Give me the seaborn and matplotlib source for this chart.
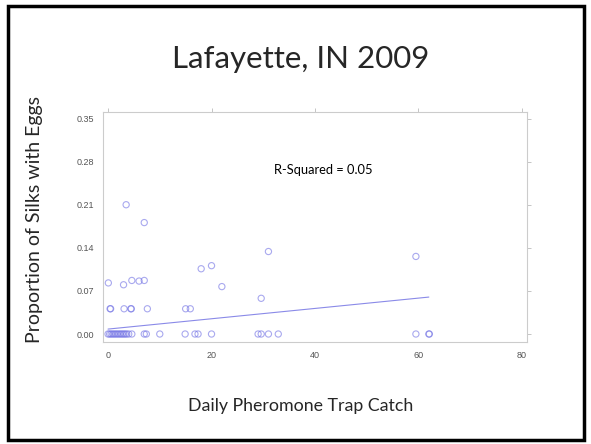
import matplotlib
matplotlib.use("Agg")
import matplotlib.pyplot as plt
import seaborn as sns
import pandas as pd
from matplotlib.patches import Rectangle

# values
catch = [0, 0.3, 0.6, 0.9, 1.2, 1.5, 1.8, 2.1, 2.4, 2.7, 3.0, 3.3, 3.6, 4.0,
         4.6, 7.0, 7.4, 10, 14.9, 16.8, 17.4, 20, 29, 29.6, 31, 32.9, 59.5, 62, 62.1,
         0.4, 0.5, 3.1, 4.4, 4.5, 7.6, 15.0, 15.9,
         0.06, 3.5, 7.0, 3.0, 4.6, 6.0, 7.0, 18, 20, 22, 29.6, 31, 59.5]
prop = [0.0] * 29 + [0.041] * 8 + \
       [0.083, 0.21, 0.181, 0.080, 0.087, 0.086, 0.087, 0.106, 0.111, 0.077,
        0.058, 0.134, 0.126]

fit_x = [0, 62]
fit_y = [0.008, 0.060]

xticks = [0, 20, 40, 60, 80]
yticks = [0.00, 0.07, 0.14, 0.21, 0.28, 0.35]

df = pd.DataFrame({"catch": catch, "prop": prop})
fit = pd.DataFrame({"x": fit_x, "y": fit_y})

sns.set_style("white")
plt.rcParams["font.family"] = ["Lato", "DejaVu Sans"]

fig = plt.figure(figsize=(5.91, 4.44), dpi=100)
ax = fig.add_axes([0.1743, 0.2297, 0.7174, 0.518])

sns.scatterplot(data=df, x="catch", y="prop", ax=ax, marker="o", s=20,
                facecolor="none", edgecolor="#7070e4", linewidth=0.8, alpha=0.6)
sns.lineplot(data=fit, x="x", y="y", ax=ax, color="#8a8ae8", linewidth=0.8)

ax.set_xlim(-0.97, 80.97)
ax.set_ylim(-0.013, 0.3606)
ax.set_xticks(xticks)
ax.set_yticks(yticks)
ax.set_xticklabels([str(t) for t in xticks])
ax.set_yticklabels([f"{t:.2f}" for t in yticks])
ax.tick_params(axis="both", labelsize=6.5, colors="#bbbbbb", labelcolor="#555555",
               length=3, width=0.6, direction="out", top=True, right=True,
               labeltop=False, labelright=False)
for lbl in ax.get_xticklabels() + ax.get_yticklabels():
    lbl.set_family(["Liberation Sans", "DejaVu Sans"])
for sp in ax.spines.values():
    sp.set_color("#cccccc")
    sp.set_linewidth(0.8)
ax.set_xlabel("")
ax.set_ylabel("")

ax.text(32, 0.266, "R-Squared = 0.05", fontsize=9.3, color="black",
        ha="left", va="center")

fig.text(0.508, 0.868, "Lafayette, IN 2009", fontsize=22.5, ha="center", va="center")
fig.text(0.508, 0.085, "Daily Pheromone Trap Catch", fontsize=12.8,
         ha="center", va="center")
fig.text(0.059, 0.505, "Proportion of Silks with Eggs", fontsize=14,
         rotation=90, ha="center", va="center")

fig.patches.append(Rectangle((0.0135, 0.008), 0.975, 0.978, transform=fig.transFigure,
                             fill=False, edgecolor="black", linewidth=2.5))

fig.savefig("out.png", dpi=100)
